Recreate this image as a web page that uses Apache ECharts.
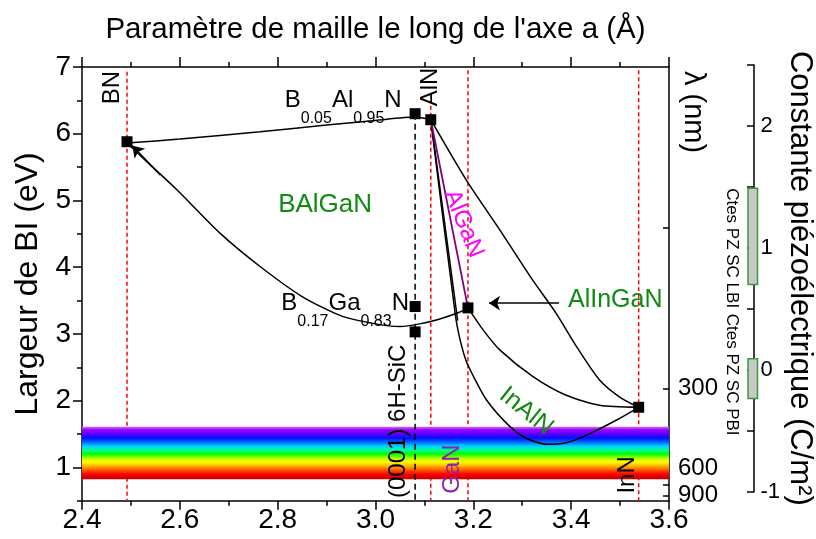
<!DOCTYPE html>
<html><head><meta charset="utf-8">
<script src="https://cdn.jsdelivr.net/npm/echarts@6/dist/echarts.min.js"></script>
<style>html,body{margin:0;padding:0;background:#fff}#c{width:816px;height:539px}</style>
</head><body><div id="c"></div>
<script>
// ---------- data ----------
const compounds = ['BN','B0.05Al0.95N','AlN','GaN','InN','B0.17Ga0.83N','6H-SiC'];
const latticeA  = [2.492, 3.081, 3.113, 3.189, 3.538, 3.081, 3.081];
const gapEV     = [5.88, 6.30, 6.21, 3.39, 1.90, 3.41, 3.03];

const curveBAlN  = [[2.492,5.86],[2.6,5.92],[2.764,6.03],[2.9,6.13],[3.0,6.2],[3.081,6.25],[3.113,6.21]];
const curveBGaN  = [[2.492,5.86],[2.54,5.53],[2.594,5.16],[2.682,4.51],[2.764,4.01],[2.85,3.56],[2.93,3.27],[3.0,3.15],[3.05,3.11],[3.09,3.15],[3.13,3.22],[3.17,3.32],[3.189,3.39]];
const curveAlGaN = [[3.113,6.21],[3.189,3.39]];
const curveAlGaN2 = [[3.113,6.21],[3.158,3.75],[3.168,3.2]];
const curveInAlN = [[3.113,6.21],[3.135,4.9],[3.155,3.76],[3.165,3.2],[3.175,2.85],[3.185,2.6],[3.197,2.41],[3.227,2.01],[3.275,1.61],[3.31,1.43],[3.35,1.345],[3.39,1.37],[3.425,1.46],[3.493,1.71],[3.538,1.90]];
const curveAlInN = [[3.113,6.21],[3.186,5.3],[3.254,4.56],[3.32,3.82],[3.369,3.31],[3.411,2.81],[3.458,2.31],[3.5,2.05],[3.538,1.90]];
const curveInGaN = [[3.189,3.39],[3.22,3.06],[3.254,2.76],[3.322,2.36],[3.39,2.08],[3.458,1.93],[3.538,1.90]];

const refIdx = [0, 2, 3, 4];           // binaries with red reference lines
const refTop = [6.93, 6.42, 6.95, 6.95];
const visibleBand = [0.82, 1.61];      // eV

const arrows = [{from:[2.56,5.38], to:[2.503,5.82]}, {from:[3.375,3.46], to:[3.232,3.46]}];

const lambdaTicks  = [150, 300, 450, 600, 750, 900];
const lambdaLabels = [300, 600, 900];
const xTickLabels  = ['2.4','2.6','2.8','3.0','3.2','3.4','3.6'];
const eTickLabels  = [1,2,3,4,5,6,7];
const piezoTickLabels = [-1,0,1,2];

const piezoNames  = ['Ctes PZ SC LBI','Ctes PZ SC PBI'];
const piezoRanges = [[0.70,1.49],[-0.235,0.09]];
const piezoLabelStart = [1.49, 0.46];

const annotations = [
  {text:'BN', x:2.462, y:6.69, rotate:90, color:'#000000', size:24},
  {text:'AlN', x:3.113, y:6.70, rotate:90, color:'#000000', size:24},
  {text:'BAlGaN', x:2.897, y:4.93, rotate:0, color:'#118a11', size:26},
  {text:'AlGaN', x:3.18, y:4.65, rotate:-68, color:'#ff00ff', size:24},
  {text:'AlInGaN', x:3.49, y:3.51, rotate:0, color:'#118a11', size:25},
  {text:'InAlN', x:3.308, y:1.84, rotate:-39, color:'#118a11', size:25},
  {text:'GaN', x:3.157, y:0.975, rotate:90, color:'#8e24aa', size:24},
  {text:'InN', x:3.515, y:0.886, rotate:90, color:'#000000', size:24},
  {text:'(0001) 6H-SiC', x:3.046, y:1.69, rotate:90, color:'#000000', size:24}
];
const formulaLabels = [
  {parts:[['B','m'],['0.05','s'],['Al','m'],['0.95','s'],['N','m']], x:2.934, y:6.45},
  {parts:[['B','m'],['0.17','s'],['Ga','m'],['0.83','s'],['N','m']], x:2.938, y:3.41}
];

// ---------- helpers ----------
const FONT = "'Liberation Sans', Arial, sans-serif";
const lamToE = l => 0.5815 * (1240 / l) - 0.223;
const eTickVals = lambdaTicks.map(lamToE);
const eLabelVals = lambdaLabels.map(lamToE);

const chart = echarts.init(document.getElementById('c'));
const series = [];

refIdx.forEach((k, i) => series.push({
  type:'line', xAxisIndex:0, yAxisIndex:0, silent:true, symbol:'none', z:1,
  data:[[latticeA[k], refTop[i]], [latticeA[k], 0.5]],
  lineStyle:{color:'#ff0000', width:1.5, type:[4,3]}
}));

series.push({
  type:'custom', xAxisIndex:0, yAxisIndex:0, silent:true, z:2,
  data:[visibleBand],
  renderItem:(params, api) => {
    const p1 = api.coord([2.4, api.value(1)]);
    const p2 = api.coord([3.6, api.value(0)]);
    return {type:'rect', shape:{x:p1[0], y:p1[1], width:p2[0]-p1[0], height:p2[1]-p1[1]},
      style:{fill:new echarts.graphic.LinearGradient(0,0,0,1,[
        {offset:0, color:'#d070ff'},{offset:0.06, color:'#9a00ff'},{offset:0.14, color:'#5a00ff'},
        {offset:0.22, color:'#0010ff'},{offset:0.3, color:'#0070ff'},{offset:0.37, color:'#00d0ff'},
        {offset:0.45, color:'#00ff90'},{offset:0.52, color:'#00ff00'},{offset:0.6, color:'#b0ff00'},
        {offset:0.67, color:'#ffff00'},{offset:0.75, color:'#ffb000'},{offset:0.83, color:'#ff5000'},
        {offset:0.9, color:'#ff0000'},{offset:1, color:'#c00000'}])}};
  }
});

series.push({
  type:'line', xAxisIndex:0, yAxisIndex:0, silent:true, symbol:'none', z:3,
  data:[[latticeA[1], gapEV[1]], [latticeA[1], 0.5]],
  lineStyle:{color:'#000', width:1.5, type:[6,4]}
});

[curveBAlN, curveBGaN, curveAlGaN2, curveInAlN, curveAlInN, curveInGaN].forEach(c => series.push({
  type:'line', xAxisIndex:0, yAxisIndex:0, silent:true, symbol:'none', z:4, smooth:0.25,
  data:c, lineStyle:{color:'#000', width:1.5}
}));
series.push({
  type:'line', xAxisIndex:0, yAxisIndex:0, silent:true, symbol:'none', z:4,
  data:curveAlGaN, lineStyle:{color:'#800080', width:1.8}
});

series.push({
  type:'line', xAxisIndex:0, yAxisIndex:0, data:[], z:5,
  markLine:{silent:true, animation:false, symbol:['none','arrow'], symbolSize:11,
    lineStyle:{color:'#000', width:1.5, type:'solid'}, label:{show:false},
    data:arrows.map(a => [{coord:a.from}, {coord:a.to}])}
});

series.push({
  type:'scatter', xAxisIndex:0, yAxisIndex:0, symbol:'rect', symbolSize:11, z:10,
  itemStyle:{color:'#000', opacity:1},
  data:latticeA.map((x, i) => ({name:compounds[i], value:[x, gapEV[i]]}))
});

series.push({
  type:'scatter', xAxisIndex:0, yAxisIndex:0, symbolSize:0, z:11, silent:true,
  itemStyle:{opacity:1},
  data:annotations.map(a => ({value:[a.x, a.y], label:{show:true, position:'inside', formatter:a.text, opacity:1,
    rotate:a.rotate, color:a.color, fontSize:a.size, fontFamily:FONT, align:'center', verticalAlign:'middle'}}))
    .concat(formulaLabels.map(f => ({value:[f.x, f.y], label:{show:true, position:'inside', opacity:1,
      formatter:f.parts.map(p => '{' + p[1] + '|' + p[0] + '}').join(''),
      rich:{m:{fontSize:24, lineHeight:30, color:'#000', fontFamily:FONT, verticalAlign:'top'},
            s:{fontSize:16, lineHeight:18, color:'#000', fontFamily:FONT, verticalAlign:'top', padding:[22,0,0,0]}}}})))
});

// piezo bars
series.push({
  type:'custom', xAxisIndex:2, yAxisIndex:2, silent:true, z:5,
  data:piezoRanges.map((r, i) => [0, r[0], r[1], piezoLabelStart[i], i]),
  renderItem:(params, api) => {
    const a = api.coord([-1, api.value(2)]);
    const b = api.coord([1, api.value(1)]);
    const t = api.coord([-1, api.value(3)]);
    return {type:'group', children:[
      {type:'rect', shape:{x:a[0], y:a[1], width:b[0]-a[0], height:b[1]-a[1]},
       style:{fill:'#c8c8c8', stroke:'#3a9a3a', lineWidth:1.5}},
      {type:'text', x:t[0]-16, y:t[1], rotation:-Math.PI/2,
       style:{text:piezoNames[api.value(4)], font:'17px ' + FONT, fill:'#000', align:'left', verticalAlign:'middle'}}
    ]};
  }
});

const axisLine = {lineStyle:{color:'#000', width:1.5}};
chart.setOption({
  animation:false,
  backgroundColor:'#fff',
  grid:[
    {left:82, right:147, top:67, bottom:38.3},
    {left:748, width:12, top:65, bottom:47.3}
  ],
  xAxis:[
    {type:'value', gridIndex:0, position:'bottom', min:2.4, max:3.6, interval:0.2,
     axisLine:axisLine, axisTick:{length:9, lineStyle:{color:'#000', width:1.5}},
     minorTick:{show:true, splitNumber:2, length:5, lineStyle:{color:'#000', width:1.5}},
     splitLine:{show:false}, minorSplitLine:{show:false},
     axisLabel:{color:'#000', fontSize:28, fontFamily:FONT, margin:6,
       formatter:v => xTickLabels.find(s => Math.abs(parseFloat(s) - v) < 1e-6) || ''}},
    {type:'value', gridIndex:0, position:'top', min:2.4, max:3.6, interval:0.2,
     axisLine:axisLine, axisTick:{length:10, lineStyle:{color:'#000', width:1.5}},
     minorTick:{show:true, splitNumber:2, length:5, lineStyle:{color:'#000', width:1.5}},
     splitLine:{show:false}, axisLabel:{show:false},
     name:"Paramètre de maille le long de l'axe a (Å)", nameLocation:'middle', nameGap:22,
     nameTextStyle:{color:'#000', fontSize:29.5, fontFamily:FONT}},
    {type:'value', gridIndex:1, min:-1, max:1, show:false}
  ],
  yAxis:[
    {type:'value', gridIndex:0, position:'left', min:0.5, max:7,
     axisLine:axisLine, axisTick:{customValues:eTickLabels, length:9, lineStyle:{color:'#000', width:1.5}},
     axisLabel:{customValues:eTickLabels, color:'#000', fontSize:28, fontFamily:FONT, margin:11},
     splitLine:{show:false},
     name:'Largeur de BI (eV)', nameLocation:'middle', nameRotate:90, nameGap:38,
     nameTextStyle:{color:'#000', fontSize:32, fontFamily:FONT}},
    {type:'value', gridIndex:0, position:'right', min:0.5, max:7,
     axisLine:axisLine, axisTick:{inside:true, customValues:eTickVals, length:6, lineStyle:{color:'#000', width:1.5}},
     axisLabel:{customValues:eLabelVals, color:'#000', fontSize:24, fontFamily:FONT, margin:9,
       formatter:v => { const i = eLabelVals.findIndex(e => Math.abs(e - v) < 1e-6); return i >= 0 ? String(lambdaLabels[i]) : ''; }},
     splitLine:{show:false}},
    {type:'value', gridIndex:1, position:'right', offset:-6, min:-1, max:2.5, interval:0.5,
     axisLine:axisLine, axisTick:{inside:true, length:7, lineStyle:{color:'#000', width:1.5}},
     axisLabel:{customValues:piezoTickLabels, color:'#000', fontSize:22, fontFamily:FONT, margin:9},
     splitLine:{show:false},
     name:'Constante piézoélectrique (C/m²)', nameLocation:'middle', nameRotate:-90, nameGap:29,
     nameTextStyle:{color:'#000', fontSize:31, fontFamily:FONT}},
    {type:'value', gridIndex:0, position:'left', min:0.5, max:7, interval:0.5,
     axisLine:{show:false}, axisTick:{length:5, lineStyle:{color:'#000', width:1.5}},
     axisLabel:{show:false}, splitLine:{show:false}}
  ],
  graphic:[{type:'text', x:693, y:112, rotation:-Math.PI/2,
    style:{text:'λ (nm)', font:'29px ' + FONT, fill:'#000', align:'center', verticalAlign:'middle'}}],
  series:series
});
</script></body></html>
